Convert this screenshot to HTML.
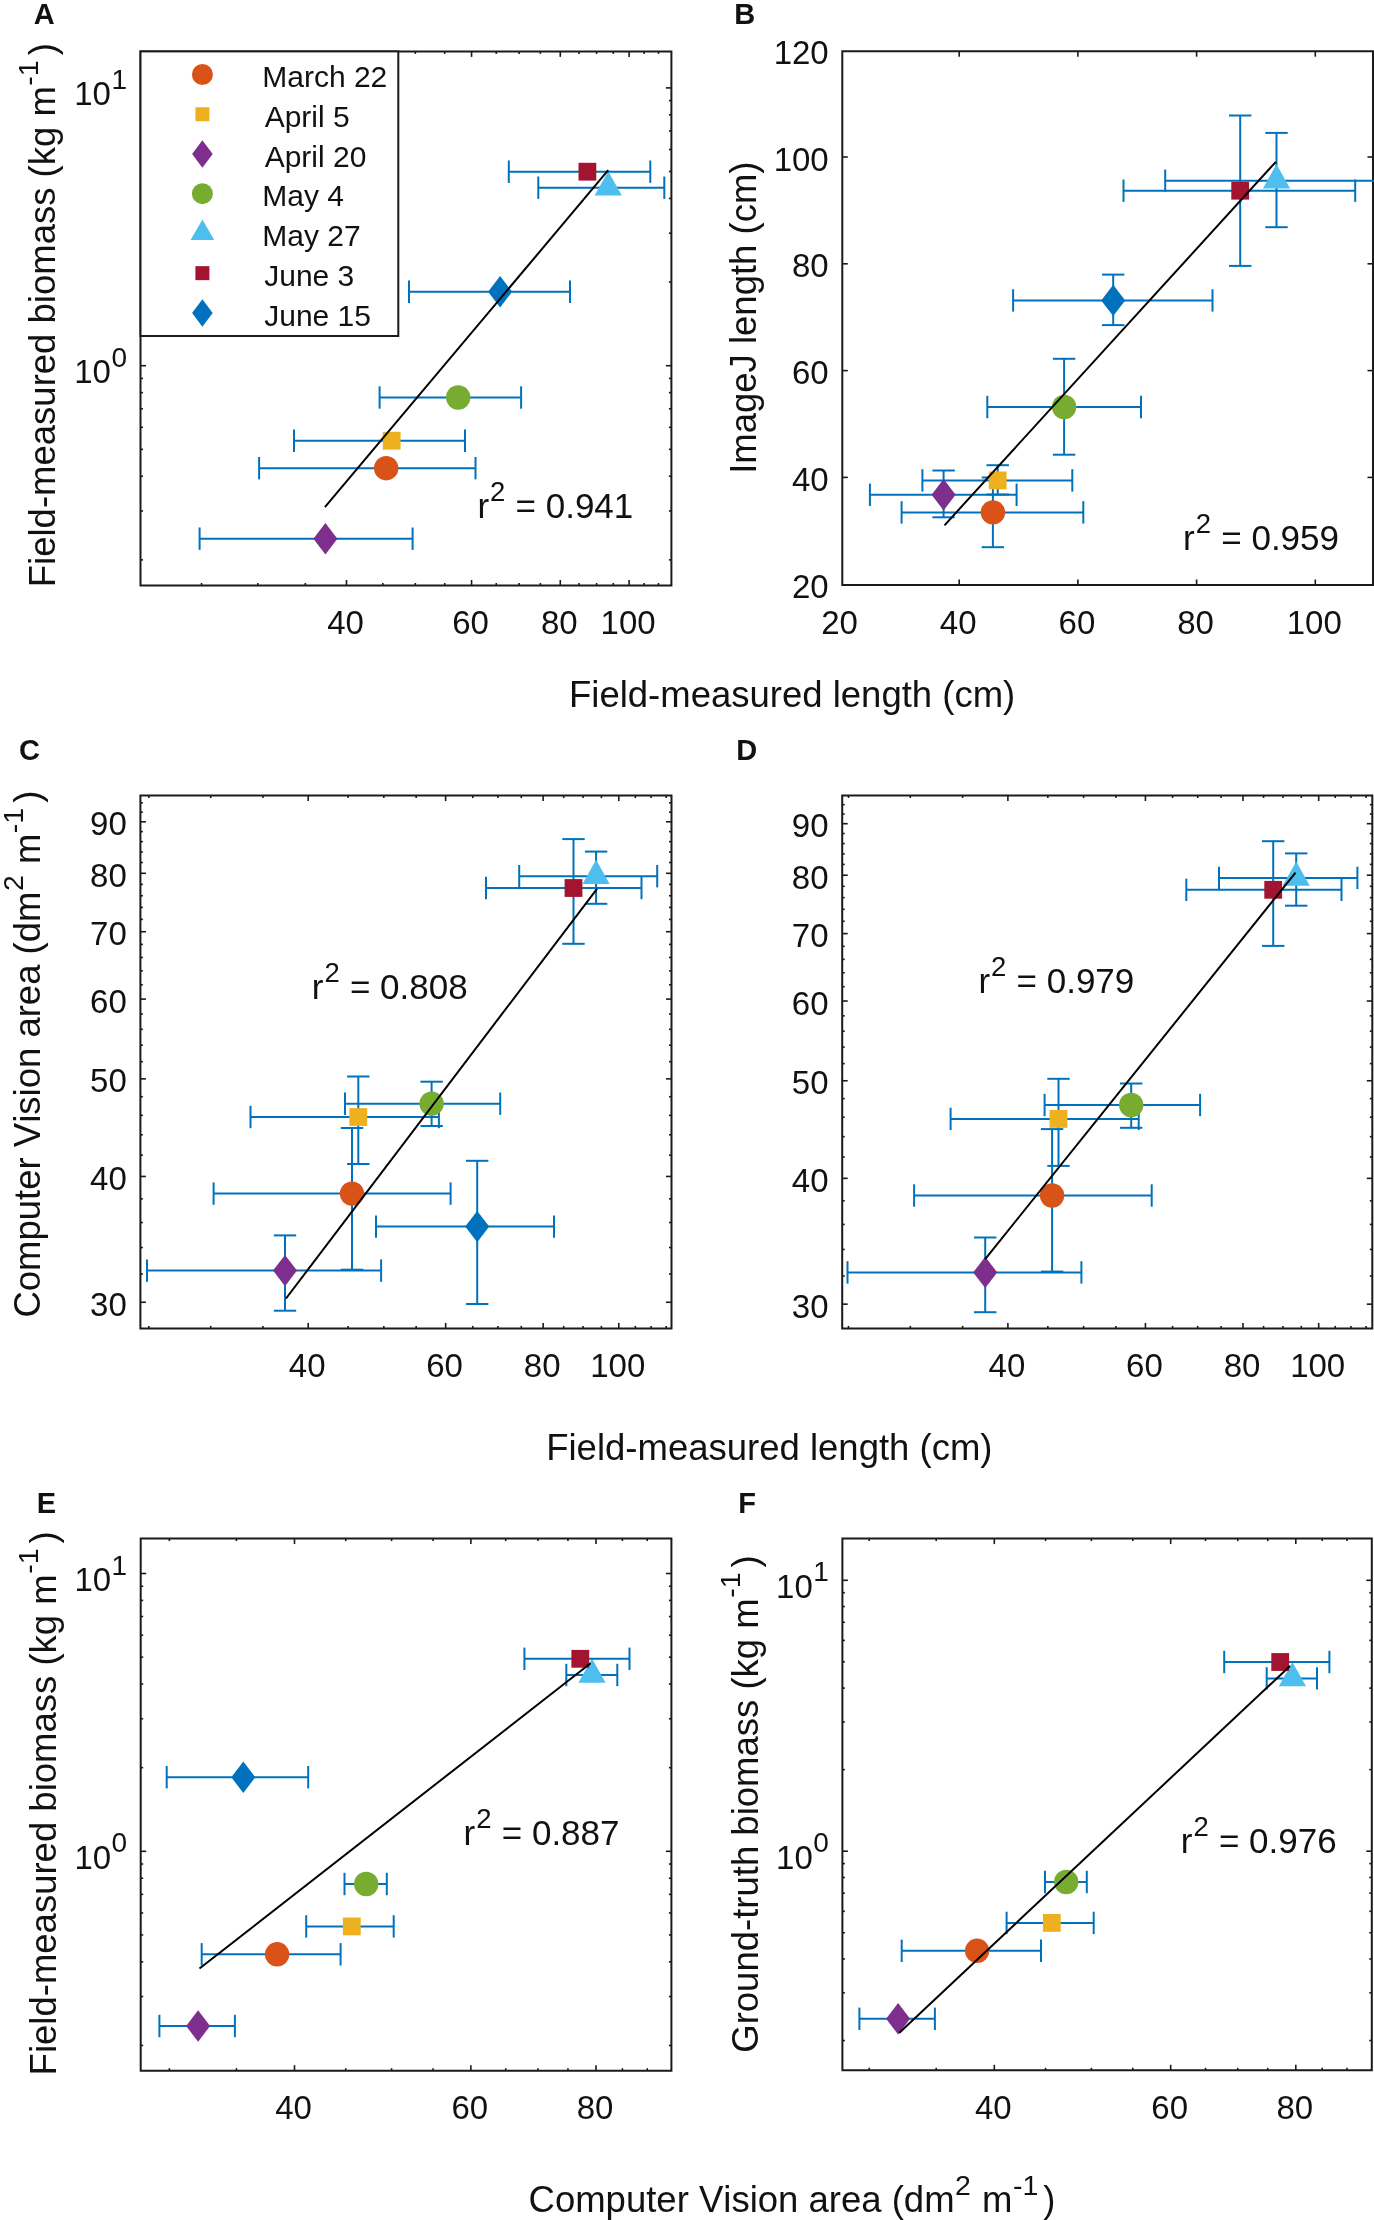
<!DOCTYPE html><html><head><meta charset="utf-8"><style>html,body{margin:0;padding:0;background:#fff;overflow:hidden;}svg{display:block;will-change:transform;font-family:"Liberation Sans",sans-serif;font-kerning:none;}</style></head><body>
<svg width="1374" height="2220" viewBox="0 0 1374 2220">
<rect width="1374" height="2220" fill="#fff"/>
<g fill="#111">
<text x="33.78" y="24" font-size="29" font-weight="bold">A</text>
<text x="734.26" y="23.8" font-size="29" font-weight="bold">B</text>
<text x="18.91" y="759.8" font-size="29" font-weight="bold">C</text>
<text x="736.16" y="759.9" font-size="29" font-weight="bold">D</text>
<text x="36.66" y="1513.2" font-size="29" font-weight="bold">E</text>
<text x="738.16" y="1513.2" font-size="29" font-weight="bold">F</text>
<g stroke="#1a1a1a" stroke-width="1.6">
<line x1="346.5" y1="585.5" x2="346.5" y2="580"/>
<line x1="346.5" y1="51.4" x2="346.5" y2="56.9"/>
<line x1="471.56" y1="585.5" x2="471.56" y2="580"/>
<line x1="471.56" y1="51.4" x2="471.56" y2="56.9"/>
<line x1="560.29" y1="585.5" x2="560.29" y2="580"/>
<line x1="560.29" y1="51.4" x2="560.29" y2="56.9"/>
<line x1="629.12" y1="585.5" x2="629.12" y2="580"/>
<line x1="629.12" y1="51.4" x2="629.12" y2="56.9"/>
<line x1="201.53" y1="585.5" x2="201.53" y2="583"/>
<line x1="201.53" y1="51.4" x2="201.53" y2="53.9"/>
<line x1="257.77" y1="585.5" x2="257.77" y2="583"/>
<line x1="257.77" y1="51.4" x2="257.77" y2="53.9"/>
<line x1="305.31" y1="585.5" x2="305.31" y2="583"/>
<line x1="305.31" y1="51.4" x2="305.31" y2="53.9"/>
<line x1="382.83" y1="585.5" x2="382.83" y2="583"/>
<line x1="382.83" y1="51.4" x2="382.83" y2="53.9"/>
<line x1="415.33" y1="585.5" x2="415.33" y2="583"/>
<line x1="415.33" y1="51.4" x2="415.33" y2="53.9"/>
<line x1="444.72" y1="585.5" x2="444.72" y2="583"/>
<line x1="444.72" y1="51.4" x2="444.72" y2="53.9"/>
<line x1="496.25" y1="585.5" x2="496.25" y2="583"/>
<line x1="496.25" y1="51.4" x2="496.25" y2="53.9"/>
<line x1="519.11" y1="585.5" x2="519.11" y2="583"/>
<line x1="519.11" y1="51.4" x2="519.11" y2="53.9"/>
<line x1="540.39" y1="585.5" x2="540.39" y2="583"/>
<line x1="540.39" y1="51.4" x2="540.39" y2="53.9"/>
<line x1="578.99" y1="585.5" x2="578.99" y2="583"/>
<line x1="578.99" y1="51.4" x2="578.99" y2="53.9"/>
<line x1="596.62" y1="585.5" x2="596.62" y2="583"/>
<line x1="596.62" y1="51.4" x2="596.62" y2="53.9"/>
<line x1="613.3" y1="585.5" x2="613.3" y2="583"/>
<line x1="613.3" y1="51.4" x2="613.3" y2="53.9"/>
<line x1="644.17" y1="585.5" x2="644.17" y2="583"/>
<line x1="644.17" y1="51.4" x2="644.17" y2="53.9"/>
<line x1="658.51" y1="585.5" x2="658.51" y2="583"/>
<line x1="658.51" y1="51.4" x2="658.51" y2="53.9"/>
<line x1="140.5" y1="365.7" x2="146" y2="365.7"/>
<line x1="671.4" y1="365.7" x2="665.9" y2="365.7"/>
<line x1="140.5" y1="87.9" x2="146" y2="87.9"/>
<line x1="671.4" y1="87.9" x2="665.9" y2="87.9"/>
<line x1="140.5" y1="559.87" x2="143" y2="559.87"/>
<line x1="671.4" y1="559.87" x2="668.9" y2="559.87"/>
<line x1="140.5" y1="510.96" x2="143" y2="510.96"/>
<line x1="671.4" y1="510.96" x2="668.9" y2="510.96"/>
<line x1="140.5" y1="476.25" x2="143" y2="476.25"/>
<line x1="671.4" y1="476.25" x2="668.9" y2="476.25"/>
<line x1="140.5" y1="449.33" x2="143" y2="449.33"/>
<line x1="671.4" y1="449.33" x2="668.9" y2="449.33"/>
<line x1="140.5" y1="427.33" x2="143" y2="427.33"/>
<line x1="671.4" y1="427.33" x2="668.9" y2="427.33"/>
<line x1="140.5" y1="408.73" x2="143" y2="408.73"/>
<line x1="671.4" y1="408.73" x2="668.9" y2="408.73"/>
<line x1="140.5" y1="392.62" x2="143" y2="392.62"/>
<line x1="671.4" y1="392.62" x2="668.9" y2="392.62"/>
<line x1="140.5" y1="378.41" x2="143" y2="378.41"/>
<line x1="671.4" y1="378.41" x2="668.9" y2="378.41"/>
<line x1="140.5" y1="282.07" x2="143" y2="282.07"/>
<line x1="671.4" y1="282.07" x2="668.9" y2="282.07"/>
<line x1="140.5" y1="233.16" x2="143" y2="233.16"/>
<line x1="671.4" y1="233.16" x2="668.9" y2="233.16"/>
<line x1="140.5" y1="198.45" x2="143" y2="198.45"/>
<line x1="671.4" y1="198.45" x2="668.9" y2="198.45"/>
<line x1="140.5" y1="171.53" x2="143" y2="171.53"/>
<line x1="671.4" y1="171.53" x2="668.9" y2="171.53"/>
<line x1="140.5" y1="149.53" x2="143" y2="149.53"/>
<line x1="671.4" y1="149.53" x2="668.9" y2="149.53"/>
<line x1="140.5" y1="130.93" x2="143" y2="130.93"/>
<line x1="671.4" y1="130.93" x2="668.9" y2="130.93"/>
<line x1="140.5" y1="114.82" x2="143" y2="114.82"/>
<line x1="671.4" y1="114.82" x2="668.9" y2="114.82"/>
<line x1="140.5" y1="100.61" x2="143" y2="100.61"/>
<line x1="671.4" y1="100.61" x2="668.9" y2="100.61"/>
</g>
<path d="M140.5 51.4H671.4V585.5H140.5Z" fill="none" stroke="#1a1a1a" stroke-width="2"/>
<text x="345.5" y="633.5" font-size="33" text-anchor="middle">40</text>
<text x="470.56" y="633.5" font-size="33" text-anchor="middle">60</text>
<text x="559.29" y="633.5" font-size="33" text-anchor="middle">80</text>
<text x="628.12" y="633.5" font-size="33" text-anchor="middle">100</text>
<text x="74.19" y="383.2" font-size="33">10</text>
<text x="111.39" y="366.7" font-size="28">0</text>
<text x="74.19" y="105.4" font-size="33">10</text>
<text x="111.39" y="88.9" font-size="28">1</text>
<g stroke="#0072BD" stroke-width="2" fill="none" stroke-linecap="butt">
<g stroke="#0072BD">
<line x1="259.1" y1="468.2" x2="475.5" y2="468.2"/>
<line x1="259.1" y1="457" x2="259.1" y2="479.4"/>
<line x1="475.5" y1="457" x2="475.5" y2="479.4"/>
</g>
<g stroke="none">
<circle cx="386.2" cy="468.2" r="12.2" fill="#D95319"/>
</g>
<g stroke="#0072BD">
<line x1="294" y1="440.7" x2="465" y2="440.7"/>
<line x1="294" y1="429.5" x2="294" y2="451.9"/>
<line x1="465" y1="429.5" x2="465" y2="451.9"/>
</g>
<g stroke="none">
<rect x="382.8" y="431.8" width="17.8" height="17.8" fill="#EDB120"/>
</g>
<g stroke="#0072BD">
<line x1="199.6" y1="538.7" x2="412.6" y2="538.7"/>
<line x1="199.6" y1="527.5" x2="199.6" y2="549.9"/>
<line x1="412.6" y1="527.5" x2="412.6" y2="549.9"/>
</g>
<g stroke="none">
<path d="M325.4 523L337.4 538.7L325.4 554.4L313.4 538.7Z" fill="#7E2F8E"/>
</g>
<g stroke="#0072BD">
<line x1="379.6" y1="397.5" x2="521.1" y2="397.5"/>
<line x1="379.6" y1="386.3" x2="379.6" y2="408.7"/>
<line x1="521.1" y1="386.3" x2="521.1" y2="408.7"/>
</g>
<g stroke="none">
<circle cx="458.2" cy="397.5" r="12.2" fill="#77AC30"/>
</g>
<g stroke="#0072BD">
<line x1="538.3" y1="187.7" x2="664.3" y2="187.7"/>
<line x1="538.3" y1="176.5" x2="538.3" y2="198.9"/>
<line x1="664.3" y1="176.5" x2="664.3" y2="198.9"/>
</g>
<g stroke="none">
<path d="M608.2 171.2L621.8 195.5L594.6 195.5Z" fill="#4DBEEE"/>
</g>
<g stroke="#0072BD">
<line x1="508.8" y1="171.7" x2="650.3" y2="171.7"/>
<line x1="508.8" y1="160.5" x2="508.8" y2="182.9"/>
<line x1="650.3" y1="160.5" x2="650.3" y2="182.9"/>
</g>
<g stroke="none">
<rect x="578.5" y="162.8" width="17.8" height="17.8" fill="#A2142F"/>
</g>
<g stroke="#0072BD">
<line x1="409" y1="291.8" x2="570" y2="291.8"/>
<line x1="409" y1="280.6" x2="409" y2="303"/>
<line x1="570" y1="280.6" x2="570" y2="303"/>
</g>
<g stroke="none">
<path d="M500.1 276.1L512.1 291.8L500.1 307.5L488.1 291.8Z" fill="#0072BD"/>
</g>
</g>
<line x1="324.9" y1="507.2" x2="608.2" y2="170.2" stroke="#000" stroke-width="2"/>
<text x="477.38" y="518" font-size="35"><tspan>r</tspan><tspan font-size="27.5" dy="-17" dx="1">2</tspan><tspan dy="17" dx="0.5"> = 0.941</tspan></text>
<rect x="140.5" y="51.4" width="257.8" height="284.6" fill="#fff" stroke="#1a1a1a" stroke-width="2"/>
<circle cx="202.4" cy="74.5" r="10.5" fill="#D95319"/>
<text x="262.24" y="87.2" font-size="30">March 22</text>
<rect x="195.4" y="107.23" width="14" height="14" fill="#EDB120"/>
<text x="264.64" y="126.93" font-size="30">April 5</text>
<path d="M202.4 140.21L212.7 153.96L202.4 167.71L192.1 153.96Z" fill="#7E2F8E"/>
<text x="264.64" y="166.66" font-size="30">April 20</text>
<circle cx="202.4" cy="193.69" r="10.5" fill="#77AC30"/>
<text x="262.24" y="206.39" font-size="30">May 4</text>
<path d="M202.4 219.42L214.2 240.12L190.6 240.12Z" fill="#4DBEEE"/>
<text x="262.24" y="246.12" font-size="30">May 27</text>
<rect x="195.4" y="266.15" width="14" height="14" fill="#A2142F"/>
<text x="264.23" y="285.85" font-size="30">June 3</text>
<path d="M202.4 299.13L212.7 312.88L202.4 326.63L192.1 312.88Z" fill="#0072BD"/>
<text x="264.23" y="325.58" font-size="30">June 15</text>
<text transform="translate(55.4 587.19) rotate(-90)" font-size="36.5"><tspan font-size="36.5">Field-measured biomass (kg m</tspan><tspan font-size="28.5" dy="-17.4" dx="0.5">-1</tspan><tspan font-size="36.5" dy="17.4" dx="5">)</tspan></text>
<g stroke="#1a1a1a" stroke-width="1.6">
<line x1="959.2" y1="585" x2="959.2" y2="579.5"/>
<line x1="959.2" y1="51.2" x2="959.2" y2="56.7"/>
<line x1="1077.9" y1="585" x2="1077.9" y2="579.5"/>
<line x1="1077.9" y1="51.2" x2="1077.9" y2="56.7"/>
<line x1="1196.6" y1="585" x2="1196.6" y2="579.5"/>
<line x1="1196.6" y1="51.2" x2="1196.6" y2="56.7"/>
<line x1="1315.3" y1="585" x2="1315.3" y2="579.5"/>
<line x1="1315.3" y1="51.2" x2="1315.3" y2="56.7"/>
<line x1="842.3" y1="477.4" x2="847.8" y2="477.4"/>
<line x1="1373" y1="477.4" x2="1367.5" y2="477.4"/>
<line x1="842.3" y1="370.6" x2="847.8" y2="370.6"/>
<line x1="1373" y1="370.6" x2="1367.5" y2="370.6"/>
<line x1="842.3" y1="263.8" x2="847.8" y2="263.8"/>
<line x1="1373" y1="263.8" x2="1367.5" y2="263.8"/>
<line x1="842.3" y1="157" x2="847.8" y2="157"/>
<line x1="1373" y1="157" x2="1367.5" y2="157"/>
</g>
<path d="M842.3 51.2H1373V585H842.3Z" fill="none" stroke="#1a1a1a" stroke-width="2"/>
<text x="839.5" y="633.5" font-size="33" text-anchor="middle">20</text>
<text x="958.2" y="633.5" font-size="33" text-anchor="middle">40</text>
<text x="1076.9" y="633.5" font-size="33" text-anchor="middle">60</text>
<text x="1195.6" y="633.5" font-size="33" text-anchor="middle">80</text>
<text x="1314.3" y="633.5" font-size="33" text-anchor="middle">100</text>
<text x="828.69" y="597.7" font-size="33" text-anchor="end">20</text>
<text x="828.69" y="490.9" font-size="33" text-anchor="end">40</text>
<text x="828.69" y="384.1" font-size="33" text-anchor="end">60</text>
<text x="828.69" y="277.3" font-size="33" text-anchor="end">80</text>
<text x="828.69" y="170.5" font-size="33" text-anchor="end">100</text>
<text x="828.69" y="63.7" font-size="33" text-anchor="end">120</text>
<g stroke="#0072BD" stroke-width="2" fill="none" stroke-linecap="butt">
<g stroke="#0072BD">
<line x1="901.6" y1="512.4" x2="1083.3" y2="512.4"/>
<line x1="901.6" y1="501.2" x2="901.6" y2="523.6"/>
<line x1="1083.3" y1="501.2" x2="1083.3" y2="523.6"/>
<line x1="992.9" y1="477.5" x2="992.9" y2="547.2"/>
<line x1="981.7" y1="477.5" x2="1004.1" y2="477.5"/>
<line x1="981.7" y1="547.2" x2="1004.1" y2="547.2"/>
</g>
<g stroke="none">
<circle cx="992.9" cy="512.4" r="12.2" fill="#D95319"/>
</g>
<g stroke="#0072BD">
<line x1="922.4" y1="480.4" x2="1072.3" y2="480.4"/>
<line x1="922.4" y1="469.2" x2="922.4" y2="491.6"/>
<line x1="1072.3" y1="469.2" x2="1072.3" y2="491.6"/>
<line x1="997.7" y1="465.2" x2="997.7" y2="494.5"/>
<line x1="986.5" y1="465.2" x2="1008.9" y2="465.2"/>
<line x1="986.5" y1="494.5" x2="1008.9" y2="494.5"/>
</g>
<g stroke="none">
<rect x="988.8" y="471.5" width="17.8" height="17.8" fill="#EDB120"/>
</g>
<g stroke="#0072BD">
<line x1="869.9" y1="494.8" x2="1016.6" y2="494.8"/>
<line x1="869.9" y1="483.6" x2="869.9" y2="506"/>
<line x1="1016.6" y1="483.6" x2="1016.6" y2="506"/>
<line x1="943.6" y1="470.5" x2="943.6" y2="517.3"/>
<line x1="932.4" y1="470.5" x2="954.8" y2="470.5"/>
<line x1="932.4" y1="517.3" x2="954.8" y2="517.3"/>
</g>
<g stroke="none">
<path d="M943.6 479.1L955.6 494.8L943.6 510.5L931.6 494.8Z" fill="#7E2F8E"/>
</g>
<g stroke="#0072BD">
<line x1="987.3" y1="407" x2="1141" y2="407"/>
<line x1="987.3" y1="395.8" x2="987.3" y2="418.2"/>
<line x1="1141" y1="395.8" x2="1141" y2="418.2"/>
<line x1="1064.1" y1="358.8" x2="1064.1" y2="454.7"/>
<line x1="1052.9" y1="358.8" x2="1075.3" y2="358.8"/>
<line x1="1052.9" y1="454.7" x2="1075.3" y2="454.7"/>
</g>
<g stroke="none">
<circle cx="1064.1" cy="407" r="12.2" fill="#77AC30"/>
</g>
<g stroke="#0072BD">
<line x1="1165.2" y1="180.7" x2="1380" y2="180.7"/>
<line x1="1165.2" y1="169.5" x2="1165.2" y2="191.9"/>
<line x1="1276.5" y1="132.9" x2="1276.5" y2="227.2"/>
<line x1="1265.3" y1="132.9" x2="1287.7" y2="132.9"/>
<line x1="1265.3" y1="227.2" x2="1287.7" y2="227.2"/>
</g>
<g stroke="none">
<path d="M1276.5 164.2L1290.1 188.5L1262.9 188.5Z" fill="#4DBEEE"/>
</g>
<g stroke="#0072BD">
<line x1="1123.5" y1="190.7" x2="1355.2" y2="190.7"/>
<line x1="1123.5" y1="179.5" x2="1123.5" y2="201.9"/>
<line x1="1355.2" y1="179.5" x2="1355.2" y2="201.9"/>
<line x1="1240.2" y1="115.5" x2="1240.2" y2="265.9"/>
<line x1="1229" y1="115.5" x2="1251.4" y2="115.5"/>
<line x1="1229" y1="265.9" x2="1251.4" y2="265.9"/>
</g>
<g stroke="none">
<rect x="1231.3" y="181.8" width="17.8" height="17.8" fill="#A2142F"/>
</g>
<g stroke="#0072BD">
<line x1="1013.1" y1="300.4" x2="1212.5" y2="300.4"/>
<line x1="1013.1" y1="289.2" x2="1013.1" y2="311.6"/>
<line x1="1212.5" y1="289.2" x2="1212.5" y2="311.6"/>
<line x1="1113.2" y1="274.6" x2="1113.2" y2="325.1"/>
<line x1="1102" y1="274.6" x2="1124.4" y2="274.6"/>
<line x1="1102" y1="325.1" x2="1124.4" y2="325.1"/>
</g>
<g stroke="none">
<path d="M1113.2 284.7L1125.2 300.4L1113.2 316.1L1101.2 300.4Z" fill="#0072BD"/>
</g>
</g>
<line x1="944.5" y1="525.3" x2="1275.9" y2="161.8" stroke="#000" stroke-width="2"/>
<text x="1183.08" y="549.7" font-size="35"><tspan>r</tspan><tspan font-size="27.5" dy="-17" dx="1">2</tspan><tspan dy="17" dx="0.5"> = 0.959</tspan></text>
<text transform="translate(755.8 473.87) rotate(-90)" font-size="36.5"><tspan font-size="36.5">ImageJ length (cm)</tspan></text>
<text x="569.01" y="706.9" font-size="36.5"><tspan font-size="36.5">Field-measured length (cm)</tspan></text>
<g stroke="#1a1a1a" stroke-width="1.6">
<line x1="308.2" y1="1328.4" x2="308.2" y2="1322.9"/>
<line x1="308.2" y1="795.6" x2="308.2" y2="801.1"/>
<line x1="445.64" y1="1328.4" x2="445.64" y2="1322.9"/>
<line x1="445.64" y1="795.6" x2="445.64" y2="801.1"/>
<line x1="543.15" y1="1328.4" x2="543.15" y2="1322.9"/>
<line x1="543.15" y1="795.6" x2="543.15" y2="801.1"/>
<line x1="618.79" y1="1328.4" x2="618.79" y2="1322.9"/>
<line x1="618.79" y1="795.6" x2="618.79" y2="801.1"/>
<line x1="148.88" y1="1328.4" x2="148.88" y2="1325.9"/>
<line x1="148.88" y1="795.6" x2="148.88" y2="798.1"/>
<line x1="210.69" y1="1328.4" x2="210.69" y2="1325.9"/>
<line x1="210.69" y1="795.6" x2="210.69" y2="798.1"/>
<line x1="262.94" y1="1328.4" x2="262.94" y2="1325.9"/>
<line x1="262.94" y1="795.6" x2="262.94" y2="798.1"/>
<line x1="348.12" y1="1328.4" x2="348.12" y2="1325.9"/>
<line x1="348.12" y1="795.6" x2="348.12" y2="798.1"/>
<line x1="383.84" y1="1328.4" x2="383.84" y2="1325.9"/>
<line x1="383.84" y1="795.6" x2="383.84" y2="798.1"/>
<line x1="416.15" y1="1328.4" x2="416.15" y2="1325.9"/>
<line x1="416.15" y1="795.6" x2="416.15" y2="798.1"/>
<line x1="472.77" y1="1328.4" x2="472.77" y2="1325.9"/>
<line x1="472.77" y1="795.6" x2="472.77" y2="798.1"/>
<line x1="497.89" y1="1328.4" x2="497.89" y2="1325.9"/>
<line x1="497.89" y1="795.6" x2="497.89" y2="798.1"/>
<line x1="521.28" y1="1328.4" x2="521.28" y2="1325.9"/>
<line x1="521.28" y1="795.6" x2="521.28" y2="798.1"/>
<line x1="563.7" y1="1328.4" x2="563.7" y2="1325.9"/>
<line x1="563.7" y1="795.6" x2="563.7" y2="798.1"/>
<line x1="583.08" y1="1328.4" x2="583.08" y2="1325.9"/>
<line x1="583.08" y1="795.6" x2="583.08" y2="798.1"/>
<line x1="601.41" y1="1328.4" x2="601.41" y2="1325.9"/>
<line x1="601.41" y1="795.6" x2="601.41" y2="798.1"/>
<line x1="635.33" y1="1328.4" x2="635.33" y2="1325.9"/>
<line x1="635.33" y1="795.6" x2="635.33" y2="798.1"/>
<line x1="651.1" y1="1328.4" x2="651.1" y2="1325.9"/>
<line x1="651.1" y1="795.6" x2="651.1" y2="798.1"/>
<line x1="666.17" y1="1328.4" x2="666.17" y2="1325.9"/>
<line x1="666.17" y1="795.6" x2="666.17" y2="798.1"/>
<line x1="140.4" y1="1302.26" x2="145.9" y2="1302.26"/>
<line x1="671.5" y1="1302.26" x2="666" y2="1302.26"/>
<line x1="140.4" y1="1176.45" x2="145.9" y2="1176.45"/>
<line x1="671.5" y1="1176.45" x2="666" y2="1176.45"/>
<line x1="140.4" y1="1078.86" x2="145.9" y2="1078.86"/>
<line x1="671.5" y1="1078.86" x2="666" y2="1078.86"/>
<line x1="140.4" y1="999.12" x2="145.9" y2="999.12"/>
<line x1="671.5" y1="999.12" x2="666" y2="999.12"/>
<line x1="140.4" y1="931.71" x2="145.9" y2="931.71"/>
<line x1="671.5" y1="931.71" x2="666" y2="931.71"/>
<line x1="140.4" y1="873.31" x2="145.9" y2="873.31"/>
<line x1="671.5" y1="873.31" x2="666" y2="873.31"/>
<line x1="140.4" y1="821.8" x2="145.9" y2="821.8"/>
<line x1="671.5" y1="821.8" x2="666" y2="821.8"/>
<line x1="140.4" y1="1274.04" x2="142.9" y2="1274.04"/>
<line x1="671.5" y1="1274.04" x2="669" y2="1274.04"/>
<line x1="140.4" y1="1247.52" x2="142.9" y2="1247.52"/>
<line x1="671.5" y1="1247.52" x2="669" y2="1247.52"/>
<line x1="140.4" y1="1222.53" x2="142.9" y2="1222.53"/>
<line x1="671.5" y1="1222.53" x2="669" y2="1222.53"/>
<line x1="140.4" y1="1198.88" x2="142.9" y2="1198.88"/>
<line x1="671.5" y1="1198.88" x2="669" y2="1198.88"/>
<line x1="140.4" y1="1155.11" x2="142.9" y2="1155.11"/>
<line x1="671.5" y1="1155.11" x2="669" y2="1155.11"/>
<line x1="140.4" y1="1134.77" x2="142.9" y2="1134.77"/>
<line x1="671.5" y1="1134.77" x2="669" y2="1134.77"/>
<line x1="140.4" y1="1115.33" x2="142.9" y2="1115.33"/>
<line x1="671.5" y1="1115.33" x2="669" y2="1115.33"/>
<line x1="140.4" y1="1096.71" x2="142.9" y2="1096.71"/>
<line x1="671.5" y1="1096.71" x2="669" y2="1096.71"/>
<line x1="140.4" y1="1061.71" x2="142.9" y2="1061.71"/>
<line x1="671.5" y1="1061.71" x2="669" y2="1061.71"/>
<line x1="140.4" y1="1045.2" x2="142.9" y2="1045.2"/>
<line x1="671.5" y1="1045.2" x2="669" y2="1045.2"/>
<line x1="140.4" y1="1029.3" x2="142.9" y2="1029.3"/>
<line x1="671.5" y1="1029.3" x2="669" y2="1029.3"/>
<line x1="140.4" y1="1013.95" x2="142.9" y2="1013.95"/>
<line x1="671.5" y1="1013.95" x2="669" y2="1013.95"/>
<line x1="140.4" y1="984.78" x2="142.9" y2="984.78"/>
<line x1="671.5" y1="984.78" x2="669" y2="984.78"/>
<line x1="140.4" y1="970.9" x2="142.9" y2="970.9"/>
<line x1="671.5" y1="970.9" x2="669" y2="970.9"/>
<line x1="140.4" y1="957.44" x2="142.9" y2="957.44"/>
<line x1="671.5" y1="957.44" x2="669" y2="957.44"/>
<line x1="140.4" y1="944.39" x2="142.9" y2="944.39"/>
<line x1="671.5" y1="944.39" x2="669" y2="944.39"/>
<line x1="140.4" y1="919.39" x2="142.9" y2="919.39"/>
<line x1="671.5" y1="919.39" x2="669" y2="919.39"/>
<line x1="140.4" y1="907.41" x2="142.9" y2="907.41"/>
<line x1="671.5" y1="907.41" x2="669" y2="907.41"/>
<line x1="140.4" y1="895.74" x2="142.9" y2="895.74"/>
<line x1="671.5" y1="895.74" x2="669" y2="895.74"/>
<line x1="140.4" y1="884.38" x2="142.9" y2="884.38"/>
<line x1="671.5" y1="884.38" x2="669" y2="884.38"/>
<line x1="140.4" y1="862.51" x2="142.9" y2="862.51"/>
<line x1="671.5" y1="862.51" x2="669" y2="862.51"/>
<line x1="140.4" y1="851.97" x2="142.9" y2="851.97"/>
<line x1="671.5" y1="851.97" x2="669" y2="851.97"/>
<line x1="140.4" y1="841.68" x2="142.9" y2="841.68"/>
<line x1="671.5" y1="841.68" x2="669" y2="841.68"/>
<line x1="140.4" y1="831.63" x2="142.9" y2="831.63"/>
<line x1="671.5" y1="831.63" x2="669" y2="831.63"/>
<line x1="140.4" y1="812.19" x2="142.9" y2="812.19"/>
<line x1="671.5" y1="812.19" x2="669" y2="812.19"/>
<line x1="140.4" y1="802.78" x2="142.9" y2="802.78"/>
<line x1="671.5" y1="802.78" x2="669" y2="802.78"/>
</g>
<path d="M140.4 795.6H671.5V1328.4H140.4Z" fill="none" stroke="#1a1a1a" stroke-width="2"/>
<text x="307.2" y="1376.6" font-size="33" text-anchor="middle">40</text>
<text x="444.64" y="1376.6" font-size="33" text-anchor="middle">60</text>
<text x="542.15" y="1376.6" font-size="33" text-anchor="middle">80</text>
<text x="617.79" y="1376.6" font-size="33" text-anchor="middle">100</text>
<text x="126.79" y="1315.76" font-size="33" text-anchor="end">30</text>
<text x="126.79" y="1189.95" font-size="33" text-anchor="end">40</text>
<text x="126.79" y="1092.36" font-size="33" text-anchor="end">50</text>
<text x="126.79" y="1012.62" font-size="33" text-anchor="end">60</text>
<text x="126.79" y="945.21" font-size="33" text-anchor="end">70</text>
<text x="126.79" y="886.81" font-size="33" text-anchor="end">80</text>
<text x="126.79" y="835.3" font-size="33" text-anchor="end">90</text>
<g stroke="#0072BD" stroke-width="2" fill="none" stroke-linecap="butt">
<g stroke="#0072BD">
<line x1="213.6" y1="1193.6" x2="450.6" y2="1193.6"/>
<line x1="213.6" y1="1182.4" x2="213.6" y2="1204.8"/>
<line x1="450.6" y1="1182.4" x2="450.6" y2="1204.8"/>
<line x1="352" y1="1128" x2="352" y2="1269.7"/>
<line x1="340.8" y1="1128" x2="363.2" y2="1128"/>
<line x1="340.8" y1="1269.7" x2="363.2" y2="1269.7"/>
</g>
<g stroke="none">
<circle cx="352" cy="1193.6" r="12.2" fill="#D95319"/>
</g>
<g stroke="#0072BD">
<line x1="250.5" y1="1117" x2="438.9" y2="1117"/>
<line x1="250.5" y1="1105.8" x2="250.5" y2="1128.2"/>
<line x1="438.9" y1="1105.8" x2="438.9" y2="1128.2"/>
<line x1="358.3" y1="1076.5" x2="358.3" y2="1164"/>
<line x1="347.1" y1="1076.5" x2="369.5" y2="1076.5"/>
<line x1="347.1" y1="1164" x2="369.5" y2="1164"/>
</g>
<g stroke="none">
<rect x="349.4" y="1108.1" width="17.8" height="17.8" fill="#EDB120"/>
</g>
<g stroke="#0072BD">
<line x1="147" y1="1270.6" x2="381.1" y2="1270.6"/>
<line x1="147" y1="1259.4" x2="147" y2="1281.8"/>
<line x1="381.1" y1="1259.4" x2="381.1" y2="1281.8"/>
<line x1="285" y1="1235.4" x2="285" y2="1310.7"/>
<line x1="273.8" y1="1235.4" x2="296.2" y2="1235.4"/>
<line x1="273.8" y1="1310.7" x2="296.2" y2="1310.7"/>
</g>
<g stroke="none">
<path d="M285 1254.9L297 1270.6L285 1286.3L273 1270.6Z" fill="#7E2F8E"/>
</g>
<g stroke="#0072BD">
<line x1="345" y1="1103.7" x2="500.2" y2="1103.7"/>
<line x1="345" y1="1092.5" x2="345" y2="1114.9"/>
<line x1="500.2" y1="1092.5" x2="500.2" y2="1114.9"/>
<line x1="431.6" y1="1081.7" x2="431.6" y2="1126"/>
<line x1="420.4" y1="1081.7" x2="442.8" y2="1081.7"/>
<line x1="420.4" y1="1126" x2="442.8" y2="1126"/>
</g>
<g stroke="none">
<circle cx="431.6" cy="1103.7" r="12.2" fill="#77AC30"/>
</g>
<g stroke="#0072BD">
<line x1="519.2" y1="876.2" x2="657.2" y2="876.2"/>
<line x1="519.2" y1="865" x2="519.2" y2="887.4"/>
<line x1="657.2" y1="865" x2="657.2" y2="887.4"/>
<line x1="596.1" y1="851.6" x2="596.1" y2="903.8"/>
<line x1="584.9" y1="851.6" x2="607.3" y2="851.6"/>
<line x1="584.9" y1="903.8" x2="607.3" y2="903.8"/>
</g>
<g stroke="none">
<path d="M596.1 859.7L609.7 884L582.5 884Z" fill="#4DBEEE"/>
</g>
<g stroke="#0072BD">
<line x1="486" y1="888" x2="641.5" y2="888"/>
<line x1="486" y1="876.8" x2="486" y2="899.2"/>
<line x1="641.5" y1="876.8" x2="641.5" y2="899.2"/>
<line x1="573.5" y1="839.1" x2="573.5" y2="943.8"/>
<line x1="562.3" y1="839.1" x2="584.7" y2="839.1"/>
<line x1="562.3" y1="943.8" x2="584.7" y2="943.8"/>
</g>
<g stroke="none">
<rect x="564.6" y="879.1" width="17.8" height="17.8" fill="#A2142F"/>
</g>
<g stroke="#0072BD">
<line x1="376" y1="1226.6" x2="554" y2="1226.6"/>
<line x1="376" y1="1215.4" x2="376" y2="1237.8"/>
<line x1="554" y1="1215.4" x2="554" y2="1237.8"/>
<line x1="477.2" y1="1160.8" x2="477.2" y2="1304"/>
<line x1="466" y1="1160.8" x2="488.4" y2="1160.8"/>
<line x1="466" y1="1304" x2="488.4" y2="1304"/>
</g>
<g stroke="none">
<path d="M477.2 1210.9L489.2 1226.6L477.2 1242.3L465.2 1226.6Z" fill="#0072BD"/>
</g>
</g>
<line x1="286" y1="1298.5" x2="597" y2="888.8" stroke="#000" stroke-width="2"/>
<text x="311.78" y="999.1" font-size="35"><tspan>r</tspan><tspan font-size="27.5" dy="-17" dx="1">2</tspan><tspan dy="17" dx="0.5"> = 0.808</tspan></text>
<g stroke="#1a1a1a" stroke-width="1.6">
<line x1="1007.9" y1="1328.4" x2="1007.9" y2="1322.9"/>
<line x1="1007.9" y1="795.5" x2="1007.9" y2="801"/>
<line x1="1145.43" y1="1328.4" x2="1145.43" y2="1322.9"/>
<line x1="1145.43" y1="795.5" x2="1145.43" y2="801"/>
<line x1="1243" y1="1328.4" x2="1243" y2="1322.9"/>
<line x1="1243" y1="795.5" x2="1243" y2="801"/>
<line x1="1318.69" y1="1328.4" x2="1318.69" y2="1322.9"/>
<line x1="1318.69" y1="795.5" x2="1318.69" y2="801"/>
<line x1="848.48" y1="1328.4" x2="848.48" y2="1325.9"/>
<line x1="848.48" y1="795.5" x2="848.48" y2="798"/>
<line x1="910.32" y1="1328.4" x2="910.32" y2="1325.9"/>
<line x1="910.32" y1="795.5" x2="910.32" y2="798"/>
<line x1="962.61" y1="1328.4" x2="962.61" y2="1325.9"/>
<line x1="962.61" y1="795.5" x2="962.61" y2="798"/>
<line x1="1047.85" y1="1328.4" x2="1047.85" y2="1325.9"/>
<line x1="1047.85" y1="795.5" x2="1047.85" y2="798"/>
<line x1="1083.59" y1="1328.4" x2="1083.59" y2="1325.9"/>
<line x1="1083.59" y1="795.5" x2="1083.59" y2="798"/>
<line x1="1115.91" y1="1328.4" x2="1115.91" y2="1325.9"/>
<line x1="1115.91" y1="795.5" x2="1115.91" y2="798"/>
<line x1="1172.58" y1="1328.4" x2="1172.58" y2="1325.9"/>
<line x1="1172.58" y1="795.5" x2="1172.58" y2="798"/>
<line x1="1197.71" y1="1328.4" x2="1197.71" y2="1325.9"/>
<line x1="1197.71" y1="795.5" x2="1197.71" y2="798"/>
<line x1="1221.11" y1="1328.4" x2="1221.11" y2="1325.9"/>
<line x1="1221.11" y1="795.5" x2="1221.11" y2="798"/>
<line x1="1263.57" y1="1328.4" x2="1263.57" y2="1325.9"/>
<line x1="1263.57" y1="795.5" x2="1263.57" y2="798"/>
<line x1="1282.95" y1="1328.4" x2="1282.95" y2="1325.9"/>
<line x1="1282.95" y1="795.5" x2="1282.95" y2="798"/>
<line x1="1301.29" y1="1328.4" x2="1301.29" y2="1325.9"/>
<line x1="1301.29" y1="795.5" x2="1301.29" y2="798"/>
<line x1="1335.24" y1="1328.4" x2="1335.24" y2="1325.9"/>
<line x1="1335.24" y1="795.5" x2="1335.24" y2="798"/>
<line x1="1351.02" y1="1328.4" x2="1351.02" y2="1325.9"/>
<line x1="1351.02" y1="795.5" x2="1351.02" y2="798"/>
<line x1="1366.1" y1="1328.4" x2="1366.1" y2="1325.9"/>
<line x1="1366.1" y1="795.5" x2="1366.1" y2="798"/>
<line x1="842.2" y1="1304.16" x2="847.7" y2="1304.16"/>
<line x1="1372.3" y1="1304.16" x2="1366.8" y2="1304.16"/>
<line x1="842.2" y1="1178.35" x2="847.7" y2="1178.35"/>
<line x1="1372.3" y1="1178.35" x2="1366.8" y2="1178.35"/>
<line x1="842.2" y1="1080.76" x2="847.7" y2="1080.76"/>
<line x1="1372.3" y1="1080.76" x2="1366.8" y2="1080.76"/>
<line x1="842.2" y1="1001.02" x2="847.7" y2="1001.02"/>
<line x1="1372.3" y1="1001.02" x2="1366.8" y2="1001.02"/>
<line x1="842.2" y1="933.61" x2="847.7" y2="933.61"/>
<line x1="1372.3" y1="933.61" x2="1366.8" y2="933.61"/>
<line x1="842.2" y1="875.21" x2="847.7" y2="875.21"/>
<line x1="1372.3" y1="875.21" x2="1366.8" y2="875.21"/>
<line x1="842.2" y1="823.7" x2="847.7" y2="823.7"/>
<line x1="1372.3" y1="823.7" x2="1366.8" y2="823.7"/>
<line x1="842.2" y1="1275.94" x2="844.7" y2="1275.94"/>
<line x1="1372.3" y1="1275.94" x2="1369.8" y2="1275.94"/>
<line x1="842.2" y1="1249.42" x2="844.7" y2="1249.42"/>
<line x1="1372.3" y1="1249.42" x2="1369.8" y2="1249.42"/>
<line x1="842.2" y1="1224.43" x2="844.7" y2="1224.43"/>
<line x1="1372.3" y1="1224.43" x2="1369.8" y2="1224.43"/>
<line x1="842.2" y1="1200.78" x2="844.7" y2="1200.78"/>
<line x1="1372.3" y1="1200.78" x2="1369.8" y2="1200.78"/>
<line x1="842.2" y1="1157.01" x2="844.7" y2="1157.01"/>
<line x1="1372.3" y1="1157.01" x2="1369.8" y2="1157.01"/>
<line x1="842.2" y1="1136.67" x2="844.7" y2="1136.67"/>
<line x1="1372.3" y1="1136.67" x2="1369.8" y2="1136.67"/>
<line x1="842.2" y1="1117.23" x2="844.7" y2="1117.23"/>
<line x1="1372.3" y1="1117.23" x2="1369.8" y2="1117.23"/>
<line x1="842.2" y1="1098.61" x2="844.7" y2="1098.61"/>
<line x1="1372.3" y1="1098.61" x2="1369.8" y2="1098.61"/>
<line x1="842.2" y1="1063.61" x2="844.7" y2="1063.61"/>
<line x1="1372.3" y1="1063.61" x2="1369.8" y2="1063.61"/>
<line x1="842.2" y1="1047.1" x2="844.7" y2="1047.1"/>
<line x1="1372.3" y1="1047.1" x2="1369.8" y2="1047.1"/>
<line x1="842.2" y1="1031.2" x2="844.7" y2="1031.2"/>
<line x1="1372.3" y1="1031.2" x2="1369.8" y2="1031.2"/>
<line x1="842.2" y1="1015.85" x2="844.7" y2="1015.85"/>
<line x1="1372.3" y1="1015.85" x2="1369.8" y2="1015.85"/>
<line x1="842.2" y1="986.68" x2="844.7" y2="986.68"/>
<line x1="1372.3" y1="986.68" x2="1369.8" y2="986.68"/>
<line x1="842.2" y1="972.8" x2="844.7" y2="972.8"/>
<line x1="1372.3" y1="972.8" x2="1369.8" y2="972.8"/>
<line x1="842.2" y1="959.34" x2="844.7" y2="959.34"/>
<line x1="1372.3" y1="959.34" x2="1369.8" y2="959.34"/>
<line x1="842.2" y1="946.29" x2="844.7" y2="946.29"/>
<line x1="1372.3" y1="946.29" x2="1369.8" y2="946.29"/>
<line x1="842.2" y1="921.29" x2="844.7" y2="921.29"/>
<line x1="1372.3" y1="921.29" x2="1369.8" y2="921.29"/>
<line x1="842.2" y1="909.31" x2="844.7" y2="909.31"/>
<line x1="1372.3" y1="909.31" x2="1369.8" y2="909.31"/>
<line x1="842.2" y1="897.64" x2="844.7" y2="897.64"/>
<line x1="1372.3" y1="897.64" x2="1369.8" y2="897.64"/>
<line x1="842.2" y1="886.28" x2="844.7" y2="886.28"/>
<line x1="1372.3" y1="886.28" x2="1369.8" y2="886.28"/>
<line x1="842.2" y1="864.41" x2="844.7" y2="864.41"/>
<line x1="1372.3" y1="864.41" x2="1369.8" y2="864.41"/>
<line x1="842.2" y1="853.87" x2="844.7" y2="853.87"/>
<line x1="1372.3" y1="853.87" x2="1369.8" y2="853.87"/>
<line x1="842.2" y1="843.58" x2="844.7" y2="843.58"/>
<line x1="1372.3" y1="843.58" x2="1369.8" y2="843.58"/>
<line x1="842.2" y1="833.53" x2="844.7" y2="833.53"/>
<line x1="1372.3" y1="833.53" x2="1369.8" y2="833.53"/>
<line x1="842.2" y1="814.09" x2="844.7" y2="814.09"/>
<line x1="1372.3" y1="814.09" x2="1369.8" y2="814.09"/>
<line x1="842.2" y1="804.68" x2="844.7" y2="804.68"/>
<line x1="1372.3" y1="804.68" x2="1369.8" y2="804.68"/>
</g>
<path d="M842.2 795.5H1372.3V1328.4H842.2Z" fill="none" stroke="#1a1a1a" stroke-width="2"/>
<text x="1006.9" y="1376.6" font-size="33" text-anchor="middle">40</text>
<text x="1144.43" y="1376.6" font-size="33" text-anchor="middle">60</text>
<text x="1242" y="1376.6" font-size="33" text-anchor="middle">80</text>
<text x="1317.69" y="1376.6" font-size="33" text-anchor="middle">100</text>
<text x="828.59" y="1317.66" font-size="33" text-anchor="end">30</text>
<text x="828.59" y="1191.85" font-size="33" text-anchor="end">40</text>
<text x="828.59" y="1094.26" font-size="33" text-anchor="end">50</text>
<text x="828.59" y="1014.52" font-size="33" text-anchor="end">60</text>
<text x="828.59" y="947.11" font-size="33" text-anchor="end">70</text>
<text x="828.59" y="888.71" font-size="33" text-anchor="end">80</text>
<text x="828.59" y="837.2" font-size="33" text-anchor="end">90</text>
<g stroke="#0072BD" stroke-width="2" fill="none" stroke-linecap="butt">
<g stroke="#0072BD">
<line x1="914.1" y1="1195.5" x2="1151.7" y2="1195.5"/>
<line x1="914.1" y1="1184.3" x2="914.1" y2="1206.7"/>
<line x1="1151.7" y1="1184.3" x2="1151.7" y2="1206.7"/>
<line x1="1052.1" y1="1129.1" x2="1052.1" y2="1271.6"/>
<line x1="1040.9" y1="1129.1" x2="1063.3" y2="1129.1"/>
<line x1="1040.9" y1="1271.6" x2="1063.3" y2="1271.6"/>
</g>
<g stroke="none">
<circle cx="1052.1" cy="1195.5" r="12.2" fill="#D95319"/>
</g>
<g stroke="#0072BD">
<line x1="950.6" y1="1118.9" x2="1138.7" y2="1118.9"/>
<line x1="950.6" y1="1107.7" x2="950.6" y2="1130.1"/>
<line x1="1138.7" y1="1107.7" x2="1138.7" y2="1130.1"/>
<line x1="1058.5" y1="1078.8" x2="1058.5" y2="1165.9"/>
<line x1="1047.3" y1="1078.8" x2="1069.7" y2="1078.8"/>
<line x1="1047.3" y1="1165.9" x2="1069.7" y2="1165.9"/>
</g>
<g stroke="none">
<rect x="1049.6" y="1110" width="17.8" height="17.8" fill="#EDB120"/>
</g>
<g stroke="#0072BD">
<line x1="847.5" y1="1272.4" x2="1081.4" y2="1272.4"/>
<line x1="847.5" y1="1261.2" x2="847.5" y2="1283.6"/>
<line x1="1081.4" y1="1261.2" x2="1081.4" y2="1283.6"/>
<line x1="985.2" y1="1237.5" x2="985.2" y2="1312.2"/>
<line x1="974" y1="1237.5" x2="996.4" y2="1237.5"/>
<line x1="974" y1="1312.2" x2="996.4" y2="1312.2"/>
</g>
<g stroke="none">
<path d="M985.2 1256.7L997.2 1272.4L985.2 1288.1L973.2 1272.4Z" fill="#7E2F8E"/>
</g>
<g stroke="#0072BD">
<line x1="1044.6" y1="1105" x2="1200.1" y2="1105"/>
<line x1="1044.6" y1="1093.8" x2="1044.6" y2="1116.2"/>
<line x1="1200.1" y1="1093.8" x2="1200.1" y2="1116.2"/>
<line x1="1131.2" y1="1083.5" x2="1131.2" y2="1127.8"/>
<line x1="1120" y1="1083.5" x2="1142.4" y2="1083.5"/>
<line x1="1120" y1="1127.8" x2="1142.4" y2="1127.8"/>
</g>
<g stroke="none">
<circle cx="1131.2" cy="1105" r="12.2" fill="#77AC30"/>
</g>
<g stroke="#0072BD">
<line x1="1219" y1="877.9" x2="1357.4" y2="877.9"/>
<line x1="1219" y1="866.7" x2="1219" y2="889.1"/>
<line x1="1357.4" y1="866.7" x2="1357.4" y2="889.1"/>
<line x1="1296.2" y1="853.4" x2="1296.2" y2="905.7"/>
<line x1="1285" y1="853.4" x2="1307.4" y2="853.4"/>
<line x1="1285" y1="905.7" x2="1307.4" y2="905.7"/>
</g>
<g stroke="none">
<path d="M1296.2 861.4L1309.8 885.7L1282.6 885.7Z" fill="#4DBEEE"/>
</g>
<g stroke="#0072BD">
<line x1="1186.3" y1="889.8" x2="1341.5" y2="889.8"/>
<line x1="1186.3" y1="878.6" x2="1186.3" y2="901"/>
<line x1="1341.5" y1="878.6" x2="1341.5" y2="901"/>
<line x1="1273.2" y1="841.2" x2="1273.2" y2="945.9"/>
<line x1="1262" y1="841.2" x2="1284.4" y2="841.2"/>
<line x1="1262" y1="945.9" x2="1284.4" y2="945.9"/>
</g>
<g stroke="none">
<rect x="1264.3" y="880.9" width="17.8" height="17.8" fill="#A2142F"/>
</g>
</g>
<line x1="985.2" y1="1259.1" x2="1295.5" y2="872.7" stroke="#000" stroke-width="2"/>
<text x="978.38" y="993.2" font-size="35"><tspan>r</tspan><tspan font-size="27.5" dy="-17" dx="1">2</tspan><tspan dy="17" dx="0.5"> = 0.979</tspan></text>
<text transform="translate(40 1317.55) rotate(-90)" font-size="36.5"><tspan font-size="36.5">Computer Vision area (dm</tspan><tspan font-size="28.5" dy="-17.4" dx="0.5">2</tspan><tspan font-size="36.5" dy="17.4" dx="1"> m</tspan><tspan font-size="28.5" dy="-17.4" dx="0.5">-1</tspan><tspan font-size="36.5" dy="17.4" dx="5">)</tspan></text>
<text x="546.21" y="1460.4" font-size="36.5"><tspan font-size="36.5">Field-measured length (cm)</tspan></text>
<g stroke="#1a1a1a" stroke-width="1.6">
<line x1="294.5" y1="2070.7" x2="294.5" y2="2065.2"/>
<line x1="294.5" y1="1538.6" x2="294.5" y2="1544.1"/>
<line x1="470.87" y1="2070.7" x2="470.87" y2="2065.2"/>
<line x1="470.87" y1="1538.6" x2="470.87" y2="1544.1"/>
<line x1="596.01" y1="2070.7" x2="596.01" y2="2065.2"/>
<line x1="596.01" y1="1538.6" x2="596.01" y2="1544.1"/>
<line x1="169.36" y1="2070.7" x2="169.36" y2="2068.2"/>
<line x1="169.36" y1="1538.6" x2="169.36" y2="1541.1"/>
<line x1="236.42" y1="2070.7" x2="236.42" y2="2068.2"/>
<line x1="236.42" y1="1538.6" x2="236.42" y2="1541.1"/>
<line x1="345.73" y1="2070.7" x2="345.73" y2="2068.2"/>
<line x1="345.73" y1="1538.6" x2="345.73" y2="1541.1"/>
<line x1="391.57" y1="2070.7" x2="391.57" y2="2068.2"/>
<line x1="391.57" y1="1538.6" x2="391.57" y2="1541.1"/>
<line x1="433.02" y1="2070.7" x2="433.02" y2="2068.2"/>
<line x1="433.02" y1="1538.6" x2="433.02" y2="1541.1"/>
<line x1="505.69" y1="2070.7" x2="505.69" y2="2068.2"/>
<line x1="505.69" y1="1538.6" x2="505.69" y2="1541.1"/>
<line x1="537.93" y1="2070.7" x2="537.93" y2="2068.2"/>
<line x1="537.93" y1="1538.6" x2="537.93" y2="1541.1"/>
<line x1="567.94" y1="2070.7" x2="567.94" y2="2068.2"/>
<line x1="567.94" y1="1538.6" x2="567.94" y2="1541.1"/>
<line x1="622.38" y1="2070.7" x2="622.38" y2="2068.2"/>
<line x1="622.38" y1="1538.6" x2="622.38" y2="1541.1"/>
<line x1="647.25" y1="2070.7" x2="647.25" y2="2068.2"/>
<line x1="647.25" y1="1538.6" x2="647.25" y2="1541.1"/>
<line x1="140.7" y1="1851.3" x2="146.2" y2="1851.3"/>
<line x1="671.4" y1="1851.3" x2="665.9" y2="1851.3"/>
<line x1="140.7" y1="1573.5" x2="146.2" y2="1573.5"/>
<line x1="671.4" y1="1573.5" x2="665.9" y2="1573.5"/>
<line x1="140.7" y1="2045.47" x2="143.2" y2="2045.47"/>
<line x1="671.4" y1="2045.47" x2="668.9" y2="2045.47"/>
<line x1="140.7" y1="1996.56" x2="143.2" y2="1996.56"/>
<line x1="671.4" y1="1996.56" x2="668.9" y2="1996.56"/>
<line x1="140.7" y1="1961.85" x2="143.2" y2="1961.85"/>
<line x1="671.4" y1="1961.85" x2="668.9" y2="1961.85"/>
<line x1="140.7" y1="1934.93" x2="143.2" y2="1934.93"/>
<line x1="671.4" y1="1934.93" x2="668.9" y2="1934.93"/>
<line x1="140.7" y1="1912.93" x2="143.2" y2="1912.93"/>
<line x1="671.4" y1="1912.93" x2="668.9" y2="1912.93"/>
<line x1="140.7" y1="1894.33" x2="143.2" y2="1894.33"/>
<line x1="671.4" y1="1894.33" x2="668.9" y2="1894.33"/>
<line x1="140.7" y1="1878.22" x2="143.2" y2="1878.22"/>
<line x1="671.4" y1="1878.22" x2="668.9" y2="1878.22"/>
<line x1="140.7" y1="1864.01" x2="143.2" y2="1864.01"/>
<line x1="671.4" y1="1864.01" x2="668.9" y2="1864.01"/>
<line x1="140.7" y1="1767.67" x2="143.2" y2="1767.67"/>
<line x1="671.4" y1="1767.67" x2="668.9" y2="1767.67"/>
<line x1="140.7" y1="1718.76" x2="143.2" y2="1718.76"/>
<line x1="671.4" y1="1718.76" x2="668.9" y2="1718.76"/>
<line x1="140.7" y1="1684.05" x2="143.2" y2="1684.05"/>
<line x1="671.4" y1="1684.05" x2="668.9" y2="1684.05"/>
<line x1="140.7" y1="1657.13" x2="143.2" y2="1657.13"/>
<line x1="671.4" y1="1657.13" x2="668.9" y2="1657.13"/>
<line x1="140.7" y1="1635.13" x2="143.2" y2="1635.13"/>
<line x1="671.4" y1="1635.13" x2="668.9" y2="1635.13"/>
<line x1="140.7" y1="1616.53" x2="143.2" y2="1616.53"/>
<line x1="671.4" y1="1616.53" x2="668.9" y2="1616.53"/>
<line x1="140.7" y1="1600.42" x2="143.2" y2="1600.42"/>
<line x1="671.4" y1="1600.42" x2="668.9" y2="1600.42"/>
<line x1="140.7" y1="1586.21" x2="143.2" y2="1586.21"/>
<line x1="671.4" y1="1586.21" x2="668.9" y2="1586.21"/>
</g>
<path d="M140.7 1538.6H671.4V2070.7H140.7Z" fill="none" stroke="#1a1a1a" stroke-width="2"/>
<text x="293.5" y="2119.3" font-size="33" text-anchor="middle">40</text>
<text x="469.87" y="2119.3" font-size="33" text-anchor="middle">60</text>
<text x="595.01" y="2119.3" font-size="33" text-anchor="middle">80</text>
<text x="74.39" y="1868.8" font-size="33">10</text>
<text x="111.59" y="1852.3" font-size="28">0</text>
<text x="74.39" y="1591" font-size="33">10</text>
<text x="111.59" y="1574.5" font-size="28">1</text>
<g stroke="#0072BD" stroke-width="2" fill="none" stroke-linecap="butt">
<g stroke="#0072BD">
<line x1="201.7" y1="1954.3" x2="340.6" y2="1954.3"/>
<line x1="201.7" y1="1943.1" x2="201.7" y2="1965.5"/>
<line x1="340.6" y1="1943.1" x2="340.6" y2="1965.5"/>
</g>
<g stroke="none">
<circle cx="277.1" cy="1954.3" r="12.2" fill="#D95319"/>
</g>
<g stroke="#0072BD">
<line x1="306.2" y1="1926.4" x2="393.7" y2="1926.4"/>
<line x1="306.2" y1="1915.2" x2="306.2" y2="1937.6"/>
<line x1="393.7" y1="1915.2" x2="393.7" y2="1937.6"/>
</g>
<g stroke="none">
<rect x="342.9" y="1917.5" width="17.8" height="17.8" fill="#EDB120"/>
</g>
<g stroke="#0072BD">
<line x1="159.4" y1="2026" x2="234.9" y2="2026"/>
<line x1="159.4" y1="2014.8" x2="159.4" y2="2037.2"/>
<line x1="234.9" y1="2014.8" x2="234.9" y2="2037.2"/>
</g>
<g stroke="none">
<path d="M198.1 2010.3L210.1 2026L198.1 2041.7L186.1 2026Z" fill="#7E2F8E"/>
</g>
<g stroke="#0072BD">
<line x1="344.5" y1="1884" x2="386.8" y2="1884"/>
<line x1="344.5" y1="1872.8" x2="344.5" y2="1895.2"/>
<line x1="386.8" y1="1872.8" x2="386.8" y2="1895.2"/>
</g>
<g stroke="none">
<circle cx="366.2" cy="1884" r="12.2" fill="#77AC30"/>
</g>
<g stroke="#0072BD">
<line x1="566.3" y1="1675" x2="617.3" y2="1675"/>
<line x1="566.3" y1="1663.8" x2="566.3" y2="1686.2"/>
<line x1="617.3" y1="1663.8" x2="617.3" y2="1686.2"/>
</g>
<g stroke="none">
<path d="M592 1658.5L605.6 1682.8L578.4 1682.8Z" fill="#4DBEEE"/>
</g>
<g stroke="#0072BD">
<line x1="524.4" y1="1658.8" x2="629.5" y2="1658.8"/>
<line x1="524.4" y1="1647.6" x2="524.4" y2="1670"/>
<line x1="629.5" y1="1647.6" x2="629.5" y2="1670"/>
</g>
<g stroke="none">
<rect x="571.4" y="1649.9" width="17.8" height="17.8" fill="#A2142F"/>
</g>
<g stroke="#0072BD">
<line x1="166.7" y1="1777.2" x2="308.2" y2="1777.2"/>
<line x1="166.7" y1="1766" x2="166.7" y2="1788.4"/>
<line x1="308.2" y1="1766" x2="308.2" y2="1788.4"/>
</g>
<g stroke="none">
<path d="M243.3 1761.5L255.3 1777.2L243.3 1792.9L231.3 1777.2Z" fill="#0072BD"/>
</g>
</g>
<line x1="199.5" y1="1968.5" x2="590.6" y2="1663.3" stroke="#000" stroke-width="2"/>
<text x="463.58" y="1844.9" font-size="35"><tspan>r</tspan><tspan font-size="27.5" dy="-17" dx="1">2</tspan><tspan dy="17" dx="0.5"> = 0.887</tspan></text>
<g stroke="#1a1a1a" stroke-width="1.6">
<line x1="994.3" y1="2070.3" x2="994.3" y2="2064.8"/>
<line x1="994.3" y1="1538.6" x2="994.3" y2="1544.1"/>
<line x1="1170.67" y1="2070.3" x2="1170.67" y2="2064.8"/>
<line x1="1170.67" y1="1538.6" x2="1170.67" y2="1544.1"/>
<line x1="1295.81" y1="2070.3" x2="1295.81" y2="2064.8"/>
<line x1="1295.81" y1="1538.6" x2="1295.81" y2="1544.1"/>
<line x1="869.16" y1="2070.3" x2="869.16" y2="2067.8"/>
<line x1="869.16" y1="1538.6" x2="869.16" y2="1541.1"/>
<line x1="936.22" y1="2070.3" x2="936.22" y2="2067.8"/>
<line x1="936.22" y1="1538.6" x2="936.22" y2="1541.1"/>
<line x1="1045.53" y1="2070.3" x2="1045.53" y2="2067.8"/>
<line x1="1045.53" y1="1538.6" x2="1045.53" y2="1541.1"/>
<line x1="1091.37" y1="2070.3" x2="1091.37" y2="2067.8"/>
<line x1="1091.37" y1="1538.6" x2="1091.37" y2="1541.1"/>
<line x1="1132.82" y1="2070.3" x2="1132.82" y2="2067.8"/>
<line x1="1132.82" y1="1538.6" x2="1132.82" y2="1541.1"/>
<line x1="1205.49" y1="2070.3" x2="1205.49" y2="2067.8"/>
<line x1="1205.49" y1="1538.6" x2="1205.49" y2="1541.1"/>
<line x1="1237.73" y1="2070.3" x2="1237.73" y2="2067.8"/>
<line x1="1237.73" y1="1538.6" x2="1237.73" y2="1541.1"/>
<line x1="1267.74" y1="2070.3" x2="1267.74" y2="2067.8"/>
<line x1="1267.74" y1="1538.6" x2="1267.74" y2="1541.1"/>
<line x1="1322.18" y1="2070.3" x2="1322.18" y2="2067.8"/>
<line x1="1322.18" y1="1538.6" x2="1322.18" y2="1541.1"/>
<line x1="1347.05" y1="2070.3" x2="1347.05" y2="2067.8"/>
<line x1="1347.05" y1="1538.6" x2="1347.05" y2="1541.1"/>
<line x1="842.4" y1="1851.2" x2="847.9" y2="1851.2"/>
<line x1="1371.8" y1="1851.2" x2="1366.3" y2="1851.2"/>
<line x1="842.4" y1="1580.3" x2="847.9" y2="1580.3"/>
<line x1="1371.8" y1="1580.3" x2="1366.3" y2="1580.3"/>
<line x1="842.4" y1="2040.55" x2="844.9" y2="2040.55"/>
<line x1="1371.8" y1="2040.55" x2="1369.3" y2="2040.55"/>
<line x1="842.4" y1="1992.85" x2="844.9" y2="1992.85"/>
<line x1="1371.8" y1="1992.85" x2="1369.3" y2="1992.85"/>
<line x1="842.4" y1="1959" x2="844.9" y2="1959"/>
<line x1="1371.8" y1="1959" x2="1369.3" y2="1959"/>
<line x1="842.4" y1="1932.75" x2="844.9" y2="1932.75"/>
<line x1="1371.8" y1="1932.75" x2="1369.3" y2="1932.75"/>
<line x1="842.4" y1="1911.3" x2="844.9" y2="1911.3"/>
<line x1="1371.8" y1="1911.3" x2="1369.3" y2="1911.3"/>
<line x1="842.4" y1="1893.16" x2="844.9" y2="1893.16"/>
<line x1="1371.8" y1="1893.16" x2="1369.3" y2="1893.16"/>
<line x1="842.4" y1="1877.45" x2="844.9" y2="1877.45"/>
<line x1="1371.8" y1="1877.45" x2="1369.3" y2="1877.45"/>
<line x1="842.4" y1="1863.6" x2="844.9" y2="1863.6"/>
<line x1="1371.8" y1="1863.6" x2="1369.3" y2="1863.6"/>
<line x1="842.4" y1="1769.65" x2="844.9" y2="1769.65"/>
<line x1="1371.8" y1="1769.65" x2="1369.3" y2="1769.65"/>
<line x1="842.4" y1="1721.95" x2="844.9" y2="1721.95"/>
<line x1="1371.8" y1="1721.95" x2="1369.3" y2="1721.95"/>
<line x1="842.4" y1="1688.1" x2="844.9" y2="1688.1"/>
<line x1="1371.8" y1="1688.1" x2="1369.3" y2="1688.1"/>
<line x1="842.4" y1="1661.85" x2="844.9" y2="1661.85"/>
<line x1="1371.8" y1="1661.85" x2="1369.3" y2="1661.85"/>
<line x1="842.4" y1="1640.4" x2="844.9" y2="1640.4"/>
<line x1="1371.8" y1="1640.4" x2="1369.3" y2="1640.4"/>
<line x1="842.4" y1="1622.26" x2="844.9" y2="1622.26"/>
<line x1="1371.8" y1="1622.26" x2="1369.3" y2="1622.26"/>
<line x1="842.4" y1="1606.55" x2="844.9" y2="1606.55"/>
<line x1="1371.8" y1="1606.55" x2="1369.3" y2="1606.55"/>
<line x1="842.4" y1="1592.7" x2="844.9" y2="1592.7"/>
<line x1="1371.8" y1="1592.7" x2="1369.3" y2="1592.7"/>
</g>
<path d="M842.4 1538.6H1371.8V2070.3H842.4Z" fill="none" stroke="#1a1a1a" stroke-width="2"/>
<text x="993.3" y="2118.9" font-size="33" text-anchor="middle">40</text>
<text x="1169.67" y="2118.9" font-size="33" text-anchor="middle">60</text>
<text x="1294.81" y="2118.9" font-size="33" text-anchor="middle">80</text>
<text x="776.09" y="1868.7" font-size="33">10</text>
<text x="813.29" y="1852.2" font-size="28">0</text>
<text x="776.09" y="1597.8" font-size="33">10</text>
<text x="813.29" y="1581.3" font-size="28">1</text>
<g stroke="#0072BD" stroke-width="2" fill="none" stroke-linecap="butt">
<g stroke="#0072BD">
<line x1="901.7" y1="1950.8" x2="1041" y2="1950.8"/>
<line x1="901.7" y1="1939.6" x2="901.7" y2="1962"/>
<line x1="1041" y1="1939.6" x2="1041" y2="1962"/>
</g>
<g stroke="none">
<circle cx="977.1" cy="1950.8" r="12.2" fill="#D95319"/>
</g>
<g stroke="#0072BD">
<line x1="1006.6" y1="1922.9" x2="1093.7" y2="1922.9"/>
<line x1="1006.6" y1="1911.7" x2="1006.6" y2="1934.1"/>
<line x1="1093.7" y1="1911.7" x2="1093.7" y2="1934.1"/>
</g>
<g stroke="none">
<rect x="1042.9" y="1914" width="17.8" height="17.8" fill="#EDB120"/>
</g>
<g stroke="#0072BD">
<line x1="859.4" y1="2018.8" x2="934.9" y2="2018.8"/>
<line x1="859.4" y1="2007.6" x2="859.4" y2="2030"/>
<line x1="934.9" y1="2007.6" x2="934.9" y2="2030"/>
</g>
<g stroke="none">
<path d="M898.1 2003.1L910.1 2018.8L898.1 2034.5L886.1 2018.8Z" fill="#7E2F8E"/>
</g>
<g stroke="#0072BD">
<line x1="1045" y1="1882" x2="1086.8" y2="1882"/>
<line x1="1045" y1="1870.8" x2="1045" y2="1893.2"/>
<line x1="1086.8" y1="1870.8" x2="1086.8" y2="1893.2"/>
</g>
<g stroke="none">
<circle cx="1066.2" cy="1882" r="12.2" fill="#77AC30"/>
</g>
<g stroke="#0072BD">
<line x1="1266.7" y1="1678.4" x2="1317" y2="1678.4"/>
<line x1="1266.7" y1="1667.2" x2="1266.7" y2="1689.6"/>
<line x1="1317" y1="1667.2" x2="1317" y2="1689.6"/>
</g>
<g stroke="none">
<path d="M1292.4 1661.9L1306 1686.2L1278.8 1686.2Z" fill="#4DBEEE"/>
</g>
<g stroke="#0072BD">
<line x1="1224.2" y1="1662" x2="1329.4" y2="1662"/>
<line x1="1224.2" y1="1650.8" x2="1224.2" y2="1673.2"/>
<line x1="1329.4" y1="1650.8" x2="1329.4" y2="1673.2"/>
</g>
<g stroke="none">
<rect x="1271.3" y="1653.1" width="17.8" height="17.8" fill="#A2142F"/>
</g>
</g>
<line x1="899.1" y1="2032.9" x2="1290" y2="1666" stroke="#000" stroke-width="2"/>
<text x="1180.78" y="1853.2" font-size="35"><tspan>r</tspan><tspan font-size="27.5" dy="-17" dx="1">2</tspan><tspan dy="17" dx="0.5"> = 0.976</tspan></text>
<text transform="translate(55.7 2075.39) rotate(-90)" font-size="36.5"><tspan font-size="36.5">Field-measured biomass (kg m</tspan><tspan font-size="28.5" dy="-17.4" dx="0.5">-1</tspan><tspan font-size="36.5" dy="17.4" dx="5">)</tspan></text>
<text transform="translate(757.8 2052.74) rotate(-90)" font-size="36.5"><tspan font-size="36.5">Ground-truth biomass (kg m</tspan><tspan font-size="28.5" dy="-17.4" dx="0.5">-1</tspan><tspan font-size="36.5" dy="17.4" dx="5">)</tspan></text>
<text x="528.55" y="2212.2" font-size="36.5"><tspan font-size="36.5">Computer Vision area (dm</tspan><tspan font-size="28.5" dy="-17.4" dx="0.5">2</tspan><tspan font-size="36.5" dy="17.4" dx="1"> m</tspan><tspan font-size="28.5" dy="-17.4" dx="0.5">-1</tspan><tspan font-size="36.5" dy="17.4" dx="5">)</tspan></text>
</g></svg></body></html>
